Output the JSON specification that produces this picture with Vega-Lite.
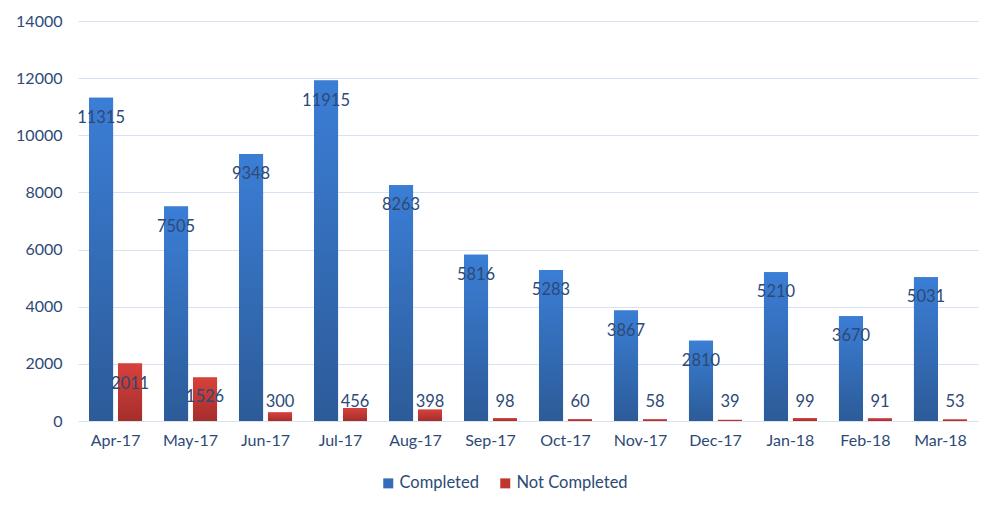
{
  "$schema": "https://vega.github.io/schema/vega-lite/v6.json",
  "width": 900,
  "height": 400,
  "autosize": {"type": "none"},
  "padding": {"left": 78, "top": 21, "right": 7, "bottom": 88},
  "background": "white",
  "config": {
    "font": "Lato",
    "view": {"stroke": null},
    "axis": {"labelFont": "Lato", "labelFontSize": 16, "labelColor": "#2d4a76"}
  },
  "data": {
    "values": [
      {"month": "Apr-17", "series": "Completed", "value": 11315},
      {"month": "Apr-17", "series": "Not Completed", "value": 2011},
      {"month": "May-17", "series": "Completed", "value": 7505},
      {"month": "May-17", "series": "Not Completed", "value": 1526},
      {"month": "Jun-17", "series": "Completed", "value": 9348},
      {"month": "Jun-17", "series": "Not Completed", "value": 300},
      {"month": "Jul-17", "series": "Completed", "value": 11915},
      {"month": "Jul-17", "series": "Not Completed", "value": 456},
      {"month": "Aug-17", "series": "Completed", "value": 8263},
      {"month": "Aug-17", "series": "Not Completed", "value": 398},
      {"month": "Sep-17", "series": "Completed", "value": 5816},
      {"month": "Sep-17", "series": "Not Completed", "value": 98},
      {"month": "Oct-17", "series": "Completed", "value": 5283},
      {"month": "Oct-17", "series": "Not Completed", "value": 60},
      {"month": "Nov-17", "series": "Completed", "value": 3867},
      {"month": "Nov-17", "series": "Not Completed", "value": 58},
      {"month": "Dec-17", "series": "Completed", "value": 2810},
      {"month": "Dec-17", "series": "Not Completed", "value": 39},
      {"month": "Jan-18", "series": "Completed", "value": 5210},
      {"month": "Jan-18", "series": "Not Completed", "value": 99},
      {"month": "Feb-18", "series": "Completed", "value": 3670},
      {"month": "Feb-18", "series": "Not Completed", "value": 91},
      {"month": "Mar-18", "series": "Completed", "value": 5031},
      {"month": "Mar-18", "series": "Not Completed", "value": 53}
    ]
  },
  "encoding": {
    "x": {
      "field": "month", "type": "nominal", "sort": null,
      "scale": {"paddingInner": 0.293, "paddingOuter": 0.147},
      "axis": {"title": null, "labelAngle": 0, "ticks": false, "domain": false, "labelPadding": 11, "labelBaseline": "top"}
    },
    "xOffset": {"field": "series", "type": "nominal", "sort": null, "scale": {"paddingInner": 0.17}}
  },
  "layer": [
    {
      "mark": {"type": "bar"},
      "encoding": {
        "y": {
          "field": "value", "type": "quantitative",
          "scale": {"domain": [0, 14000], "nice": false},
          "axis": {"title": null, "format": "d", "values": [0, 2000, 4000, 6000, 8000, 10000, 12000, 14000], "grid": true, "gridColor": "#d6e2f2", "gridWidth": 1.2, "domain": false, "ticks": false, "labelPadding": 16}
        },
        "color": {
          "field": "series", "type": "nominal",
          "scale": {"domain": ["Completed", "Not Completed"], "range": ["#356cb8", "#c0362f"]},
          "legend": {"title": null, "orient": "none", "legendX": 302, "legendY": 454, "direction": "horizontal", "symbolType": "square", "symbolSize": 100, "symbolStrokeWidth": 0, "labelFontSize": 16.5, "labelColor": "#2d4a76", "labelFont": "Lato", "columnPadding": 18, "labelOffset": 3}
        }
      }
    },
    {
      "mark": {"type": "bar"},
      "encoding": {
        "y": {"field": "value", "type": "quantitative"},
        "fill": {
          "condition": {
            "test": "datum.series === 'Completed'",
            "value": {"gradient": "linear", "x1": 0, "y1": 0, "x2": 0, "y2": 1, "stops": [{"offset": 0, "color": "#3b7ed6"}, {"offset": 1, "color": "#2c5b98"}]}
          },
          "value": {"gradient": "linear", "x1": 0, "y1": 0, "x2": 0, "y2": 1, "stops": [{"offset": 0, "color": "#d8413c"}, {"offset": 1, "color": "#a52e2b"}]}
        }
      }
    },
    {
      "transform": [{"filter": "datum.value >= 1365"}],
      "mark": {"type": "text", "dy": 20, "baseline": "middle", "align": "center", "fontSize": 16.5, "font": "Lato", "color": "#2d4a76"},
      "encoding": {
        "y": {"field": "value", "type": "quantitative"},
        "text": {"field": "value", "type": "quantitative", "format": "d"}
      }
    },
    {
      "transform": [{"filter": "datum.value < 1365"}],
      "mark": {"type": "text", "dy": -19, "baseline": "middle", "align": "center", "fontSize": 16.5, "font": "Lato", "color": "#2d4a76"},
      "encoding": {
        "y": {"datum": 0, "type": "quantitative"},
        "text": {"field": "value", "type": "quantitative", "format": "d"}
      }
    }
  ]
}
